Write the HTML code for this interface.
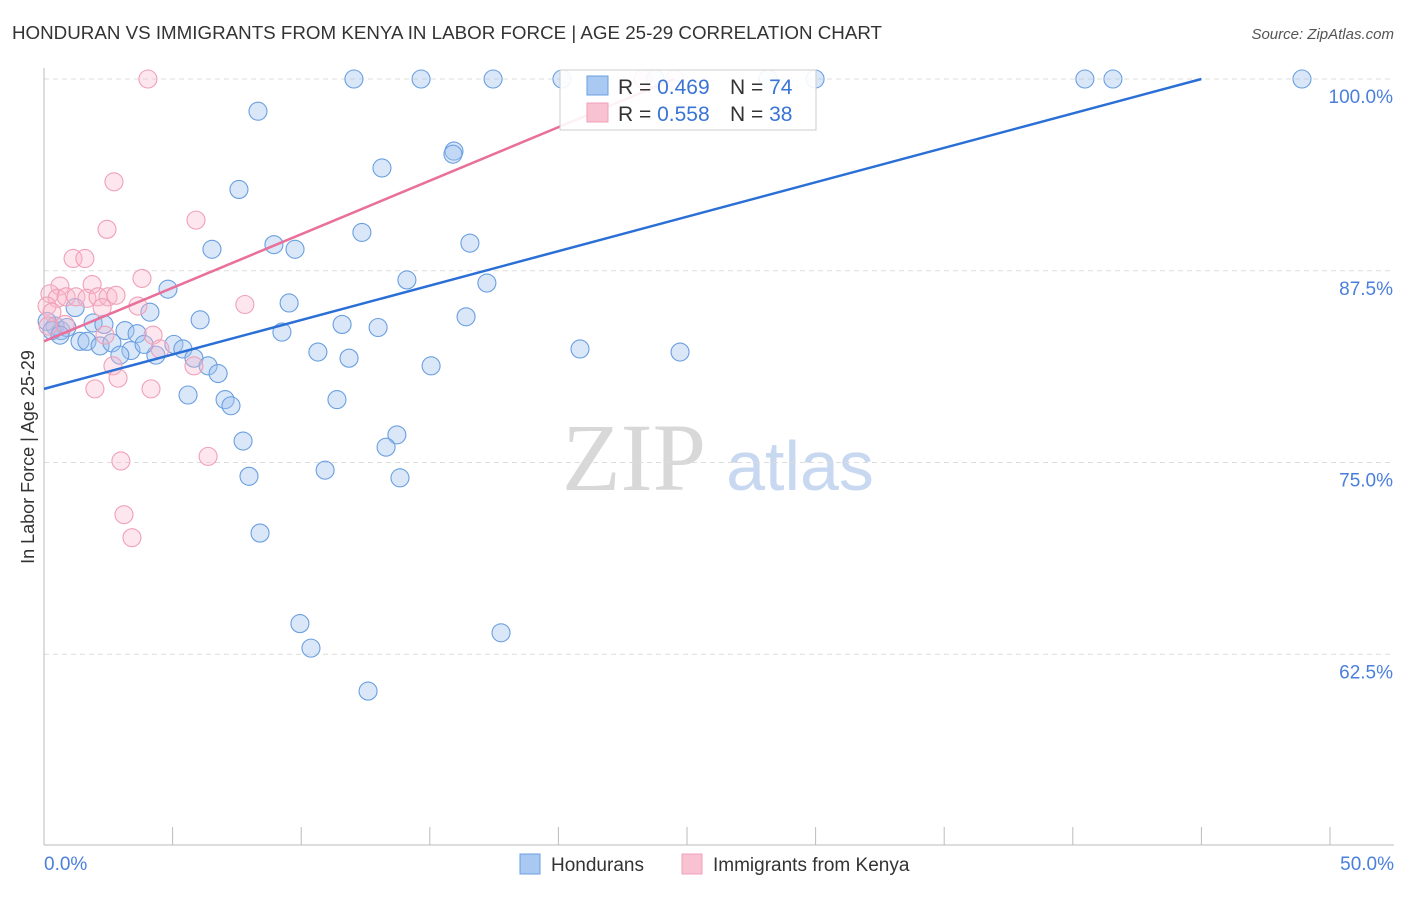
<!DOCTYPE html>
<html><head><meta charset="utf-8"><style>
body{margin:0;background:#fff;font-family:"Liberation Sans",sans-serif;}
svg text{font-family:"Liberation Sans",sans-serif;}
</style></head><body>
<svg id="c" width="1406" height="892">
<text x="12" y="39" font-size="18" textLength="870" lengthAdjust="spacingAndGlyphs" fill="#333">HONDURAN VS IMMIGRANTS FROM KENYA IN LABOR FORCE | AGE 25-29 CORRELATION CHART</text>
<text x="1394" y="39" font-size="15" fill="#555" font-style="italic" text-anchor="end">Source: ZipAtlas.com</text>
<text x="634" y="490" font-size="96" fill="#d8d8d8" text-anchor="middle" font-family="Liberation Serif" style="font-family:'Liberation Serif',serif">ZIP</text>
<text x="800" y="490" font-size="70" fill="#c8d8f0" text-anchor="middle">atlas</text>
<g id="grid"></g><g id="axes"></g><g id="pts"></g><g id="lines"></g>
<text transform="translate(34,457) rotate(-90)" font-size="18" fill="#333" text-anchor="middle">In Labor Force | Age 25-29</text>
<g>
<rect x="560" y="70" width="256" height="60" fill="#fff" fill-opacity="0.9" stroke="#ccc"/>
<rect x="587" y="76" width="21" height="19" fill="#a9c8f2" stroke="#6a9fe0"/>
<text x="618" y="94" font-size="21" fill="#333">R = <tspan fill="#3a74d6">0.469</tspan></text>
<text x="730" y="94" font-size="21" fill="#333">N = <tspan fill="#3a74d6">74</tspan></text>
<rect x="587" y="103" width="21" height="19" fill="#f8c2d2" stroke="#f0a0b8"/>
<text x="618" y="121" font-size="21" fill="#333">R = <tspan fill="#3a74d6">0.558</tspan></text>
<text x="730" y="121" font-size="21" fill="#333">N = <tspan fill="#3a74d6">38</tspan></text>
</g>
<g>
<rect x="520" y="854" width="20" height="20" fill="#a9c8f2" stroke="#6a9fe0"/>
<text x="551" y="871" font-size="19" fill="#333">Hondurans</text>
<rect x="682" y="854" width="20" height="20" fill="#f8c2d2" stroke="#f0a0b8"/>
<text x="713" y="871" font-size="19" fill="#333">Immigrants from Kenya</text>
</g>
</svg>
<script>
const yTicks=[100,87.5,75,62.5];
const yTickLabels=["100.0%","87.5%","75.0%","62.5%"];
const xTickLabels=["0.0%","50.0%"];
const blueX=[12.05,14.66,17.46,20.14,23.76,28.15,29.98,40.47,41.56,48.91,8.32,15.94,15.90,13.14,7.58,12.36,6.53,8.94,9.76,16.56,14.11,17.22,4.82,9.53,16.41,4.12,6.07,11.59,12.99,9.25,0.66,0.43,0.89,1.91,2.33,3.15,3.62,1.21,1.40,1.67,2.18,2.64,3.38,2.95,4.35,3.89,5.05,5.40,5.83,6.38,6.77,10.65,11.86,15.05,20.84,24.73,5.60,7.04,7.27,11.39,7.74,13.72,13.30,7.97,10.93,13.84,8.40,9.95,10.38,17.77,12.60,0.12,0.31,0.62];
const blueY=[100,100,100,100,100,100,100,100,100,100,97.9,95.3,95.1,94.2,92.8,90.0,88.9,89.2,88.9,89.3,86.9,86.7,86.3,85.4,84.5,84.8,84.3,84.0,83.8,83.5,83.6,83.9,83.8,84.1,84.0,83.6,83.4,85.1,82.9,82.9,82.6,82.8,82.3,82.0,82.0,82.7,82.7,82.4,81.8,81.3,80.8,82.2,81.8,81.3,82.4,82.2,79.4,79.1,78.7,79.1,76.4,76.8,76.0,74.1,74.5,74.0,70.4,64.5,62.9,63.9,60.1,84.2,83.6,83.3];
const pinkX=[4.04,23.29,24.53,2.72,2.45,5.91,1.13,1.59,3.81,0.62,1.87,0.23,0.51,0.86,1.24,1.67,2.10,2.49,2.80,0.12,0.31,2.26,3.65,7.81,0.82,2.37,4.24,4.51,5.83,2.68,2.88,1.98,4.16,2.99,6.38,3.11,3.42,0.16];
const pinkY=[100,100,100,93.3,90.2,90.8,88.3,88.3,87.0,86.5,86.6,86.0,85.7,85.8,85.8,85.7,85.8,85.8,85.9,85.2,84.8,85.1,85.2,85.3,84.0,83.3,83.3,82.4,81.3,81.3,80.5,79.8,79.8,75.1,75.4,71.6,70.1,83.9];
const blueLine=[[0,79.8],[45,100]];
const pinkLine=[[0,82.9],[24.5,100]];
const X=v=>44+v*25.72, Y=v=>79+(100-v)*15.34;
const NS="http://www.w3.org/2000/svg";
function mk(t,a,p){const e=document.createElementNS(NS,t);for(const k in a)e.setAttribute(k,a[k]);p.appendChild(e);return e;}
const grid=document.getElementById('grid'),axes=document.getElementById('axes'),pts=document.getElementById('pts'),lines=document.getElementById('lines');
yTicks.forEach((t,i)=>{
 const l=mk('line',{x1:44,x2:1394,y1:Y(t),y2:Y(t),stroke:'#ddd','stroke-dasharray':'5,4'},grid);
 
 
 const tx=mk('text',{x:1393,y:Y(t)+24,'font-size':19,fill:'#4a7fdc','text-anchor':'end'},grid);
 tx.textContent=yTickLabels[i];
 
 
});
let a=mk('line',{x1:44,x2:44,y1:68,y2:845,stroke:'#bbb'},axes);


a=mk('line',{x1:44,x2:1394,y1:845,y2:845,stroke:'#bbb'},axes);


for(let i=0;i<=10;i++){const t=mk('line',{x1:X(i*5),x2:X(i*5),y1:827,y2:845,stroke:'#bbb'},axes);
 
 }
[[0,'start'],[50,'end']].forEach((d,i)=>{const t=mk('text',{x:d[0]==0?44:1394,y:870,'font-size':19,fill:'#4a7fdc','text-anchor':d[1]},axes);t.textContent=xTickLabels[i];
 
 });
blueX.forEach((x,i)=>{const c=mk('circle',{cx:X(x),cy:Y(blueY[i]),r:9,fill:'rgba(160,196,240,0.4)',stroke:'#6a9fe0','stroke-width':1.1},pts);
 
 });
pinkX.forEach((x,i)=>{const c=mk('circle',{cx:X(x),cy:Y(pinkY[i]),r:9,fill:'rgba(248,182,202,0.35)',stroke:'#f0a0b8','stroke-width':1.1},pts);
 
 });
let ln=mk('line',{x1:X(blueLine[0][0]),y1:Y(blueLine[0][1]),x2:X(blueLine[1][0]),y2:Y(blueLine[1][1]),stroke:'#2a6fd6','stroke-width':2.5},lines);


ln=mk('line',{x1:X(pinkLine[0][0]),y1:Y(pinkLine[0][1]),x2:X(pinkLine[1][0]),y2:Y(pinkLine[1][1]),stroke:'#e8709a','stroke-width':2.5},lines);


</script>
</body></html>
